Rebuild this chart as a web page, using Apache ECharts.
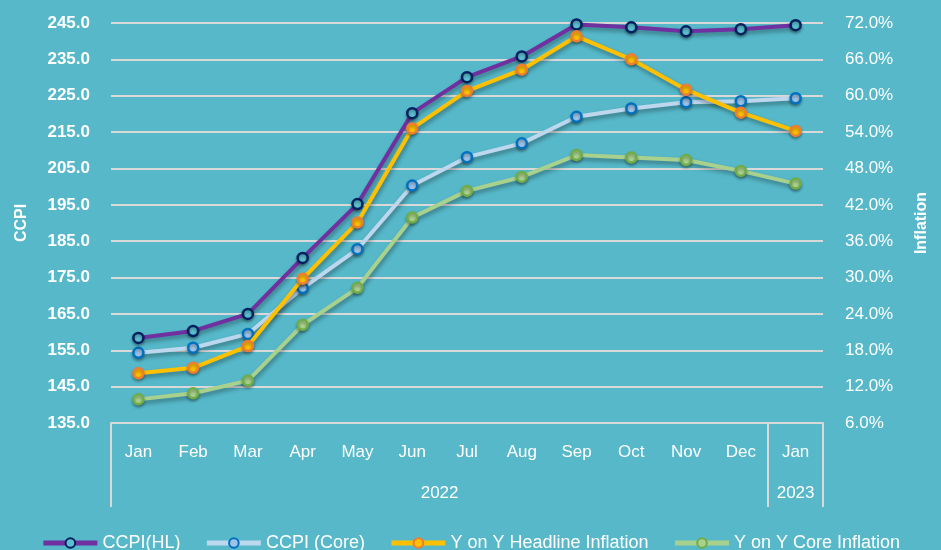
<!DOCTYPE html>
<html>
<head>
<meta charset="utf-8">
<script src="https://cdn.jsdelivr.net/npm/echarts@6/dist/echarts.min.js"></script>
<style>
  html, body { margin: 0; padding: 0; background: #56b8c9; }
  #chart { width: 941px; height: 550px; }
</style>
</head>
<body>
<div id="chart"></div>
<script>
// months on the category axis, years grouped under them
const months = ['Jan', 'Feb', 'Mar', 'Apr', 'May', 'Jun', 'Jul', 'Aug', 'Sep', 'Oct', 'Nov', 'Dec', 'Jan'];
const years = ['2022', '2023'];
const yearMonthCounts = [12, 1];

// CCPI index values (left axis)
const ccpiHL = [158.4, 160.3, 165.0, 180.4, 195.2, 220.2, 230.1, 235.8, 244.6, 243.8, 242.7, 243.3, 244.4];
const ccpiCore = [154.3, 155.7, 159.5, 172.1, 182.8, 200.3, 208.1, 211.9, 219.2, 221.5, 223.2, 223.5, 224.3];

// Y on Y inflation, % (right axis)
const headlineInfl = [14.2, 15.1, 18.7, 29.8, 39.1, 54.6, 60.8, 64.3, 69.8, 66.0, 61.0, 57.2, 54.2];
const coreInfl = [9.9, 10.9, 13.0, 22.2, 28.3, 39.9, 44.3, 46.6, 50.2, 49.8, 49.4, 47.6, 45.5];

const FONT = 'Liberation Sans';
const GRID_COLOR = '#d9d9d9';

// year label sits in the middle of its months (in category units)
const yearCenters = {};
let acc = 0;
yearMonthCounts.forEach((n, i) => {
  yearCenters[(acc + n / 2).toFixed(1)] = years[i];
  acc += n;
});
// boundaries between year groups -> tick indexes
const groupStarts = [0];
yearMonthCounts.slice(0, -1).reduce((s, n) => { groupStarts.push(s + n); return s + n; }, 0);

const chart = echarts.init(document.getElementById('chart'));

function lineSeries(name, data, yIdx, lineColor, borderColor, fillColor, z) {
  return {
    name: name,
    type: 'line',
    yAxisIndex: yIdx,
    data: data,
    z: z,
    symbol: 'circle',
    symbolSize: 10,
    showAllSymbol: true,
    lineStyle: {
      color: lineColor,
      width: 4,
      shadowColor: 'rgba(0,0,0,0.35)',
      shadowBlur: 4,
      shadowOffsetX: 1,
      shadowOffsetY: 3
    },
    itemStyle: {
      color: fillColor,
      borderColor: borderColor,
      borderWidth: 2.5,
      shadowColor: 'rgba(0,0,0,0.3)',
      shadowBlur: 3,
      shadowOffsetY: 2
    },
    emphasis: {disabled: true}
  };
}

const option = {
  backgroundColor: '#56b8c9',
  animation: false,
  textStyle: {fontFamily: FONT},
  grid: {left: 111, right: 118, top: 23, bottom: 127},
  legend: {
    top: 529,
    left: 'center',
    itemWidth: 54,
    itemHeight: 12,
    itemGap: 24,
    lineStyle: {width: 5, shadowBlur: 0, shadowOffsetX: 0, shadowOffsetY: 0},
    itemStyle: {shadowBlur: 0, shadowOffsetY: 0},
    textStyle: {color: '#ffffff', fontSize: 18, fontFamily: FONT},
    data: ['CCPI(HL)', 'CCPI (Core)', 'Y on Y Headline Inflation', 'Y on Y Core Inflation']
  },
  xAxis: [
    {
      type: 'category',
      data: months,
      boundaryGap: true,
      axisLine: {show: true, lineStyle: {color: GRID_COLOR, width: 2}},
      axisTick: {
        show: true,
        length: 84,
        interval: (idx) => groupStarts.indexOf(idx) >= 0,
        lineStyle: {color: GRID_COLOR, width: 2}
      },
      axisLabel: {color: '#ffffff', fontSize: 17, margin: 21, interval: 0, fontFamily: FONT},
      splitLine: {show: false}
    },
    {
      type: 'value',
      position: 'bottom',
      min: 0,
      max: months.length,
      interval: 0.5,
      axisLine: {show: false},
      axisTick: {show: false},
      splitLine: {show: false},
      axisLabel: {
        color: '#ffffff',
        fontSize: 17,
        margin: 62,
        fontFamily: FONT,
        formatter: (v) => yearCenters[v.toFixed(1)] || ''
      }
    }
  ],
  yAxis: [
    {
      type: 'value',
      min: 135,
      max: 245,
      interval: 10,
      name: 'CCPI',
      nameLocation: 'middle',
      nameRotate: 90,
      nameGap: 81,
      nameTextStyle: {color: '#ffffff', fontSize: 16, fontWeight: 'bold', fontFamily: FONT},
      axisLine: {show: false},
      axisTick: {show: false},
      axisLabel: {
        color: '#ffffff',
        fontSize: 17,
        fontWeight: 'bold',
        margin: 21,
        fontFamily: FONT,
        formatter: (v) => v.toFixed(1)
      },
      splitLine: {show: true, lineStyle: {color: GRID_COLOR, width: 2}}
    },
    {
      type: 'value',
      min: 6,
      max: 72,
      interval: 6,
      name: 'Inflation',
      nameLocation: 'middle',
      nameRotate: 90,
      nameGap: 91,
      nameTextStyle: {color: '#ffffff', fontSize: 16, fontWeight: 'bold', fontFamily: FONT},
      axisLine: {show: false},
      axisTick: {show: false},
      axisLabel: {
        color: '#ffffff',
        fontSize: 17,
        margin: 22,
        fontFamily: FONT,
        formatter: (v) => v.toFixed(1) + '%'
      },
      splitLine: {show: false}
    }
  ],
  series: [
    lineSeries('CCPI(HL)', ccpiHL, 0, '#7030a0', '#002060', '#5cc0d0', 4),
    lineSeries('CCPI (Core)', ccpiCore, 0, '#bdd7ee', '#0070c0', '#9dc3e6', 3),
    lineSeries('Y on Y Headline Inflation', headlineInfl, 1, '#ffc000', '#ed7d31', '#ffc000', 5),
    lineSeries('Y on Y Core Inflation', coreInfl, 1, '#a9d18e', '#70ad47', '#a9d18e', 2)
  ]
};

chart.setOption(option);
</script>
</body>
</html>
